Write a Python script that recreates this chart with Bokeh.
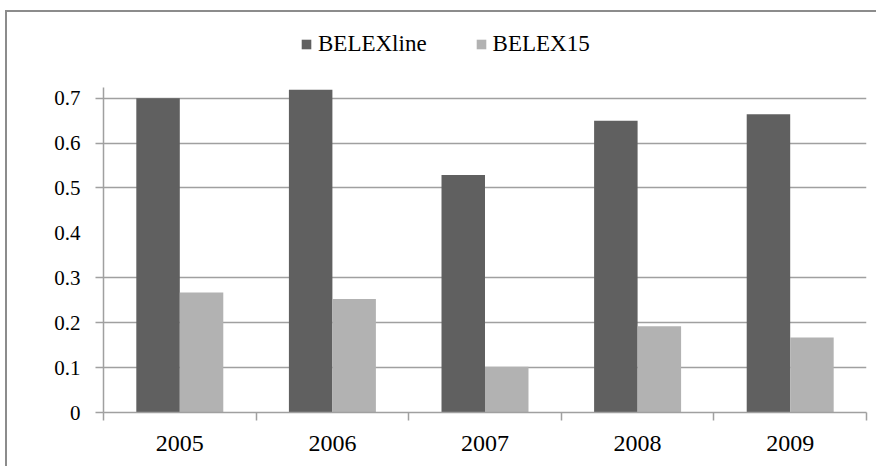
from bokeh.plotting import figure
from bokeh.models import FixedTicker, Legend, LegendItem, ColumnDataSource
from bokeh.transform import dodge
from bokeh.embed import file_html
from bokeh.resources import INLINE

years = ["2005", "2006", "2007", "2008", "2009"]
belexline = [0.700, 0.719, 0.529, 0.650, 0.664]
belex15 = [0.267, 0.253, 0.102, 0.192, 0.167]
y_ticks = [0, 0.1, 0.2, 0.3, 0.4, 0.5, 0.6, 0.7]
grid_ticks = [0, 0.1, 0.2, 0.3, 0.5, 0.6, 0.7]
y_axis_max = 0.7245

pos = list(range(1, len(years) + 1))
bounds = [i + 0.5 for i in range(0, len(years) + 1)]
src = ColumnDataSource(dict(pos=pos, years=years, a=belexline, b=belex15))

AX = "#a0a0a0"
FONT = "Liberation Serif"

p = figure(width=876, height=466, x_range=(0.5, len(years) + 0.5), y_range=(0, 0.873),
           output_backend="svg", toolbar_location=None,
           min_border_left=103, min_border_right=10, min_border_top=20, min_border_bottom=54)
p.border_fill_color = None
p.background_fill_color = "white"
p.styles = {"box-shadow": "inset 5px 10px 0px 0px white, inset 7px 12px 0px 0px #8c8c8c"}
p.outline_line_color = None
p.xgrid.visible = False
p.ygrid.ticker = FixedTicker(ticks=grid_ticks)
p.ygrid.grid_line_color = AX
p.ygrid.grid_line_width = 1.5

r1 = p.vbar(x=dodge("pos", -0.1425, range=p.x_range), top="a", width=0.285, source=src,
            fill_color="#606060", line_color=None)
r2 = p.vbar(x=dodge("pos", 0.1425, range=p.x_range), top="b", width=0.285, source=src,
            fill_color="#b2b2b2", line_color=None)

xa = p.xaxis[0]
xa.ticker = FixedTicker(ticks=pos, minor_ticks=bounds)
xa.major_label_overrides = {i: y for i, y in zip(pos, years)}
xa.major_tick_line_color = None
xa.major_tick_out = 8
xa.major_tick_in = 0
xa.minor_tick_out = 8
xa.minor_tick_in = 0
xa.minor_tick_line_color = AX
xa.minor_tick_line_width = 1.5
xa.axis_line_color = AX
xa.axis_line_width = 1.5
xa.major_label_standoff = 15
xa.major_label_text_font = FONT
xa.major_label_text_font_size = "24px"
xa.major_label_text_color = "#000000"

ya = p.yaxis[0]
ya.bounds = (0, y_axis_max)
ya.ticker = FixedTicker(ticks=y_ticks, minor_ticks=grid_ticks)
ya.major_tick_line_color = None
ya.major_tick_out = 8
ya.major_tick_in = 0
ya.minor_tick_out = 8
ya.minor_tick_in = 0
ya.minor_tick_line_color = AX
ya.minor_tick_line_width = 1.5
ya.axis_line_color = AX
ya.axis_line_width = 1.5
ya.major_label_standoff = 15
ya.major_label_text_font = FONT
ya.major_label_text_font_size = "21px"
ya.major_label_text_color = "#000000"

legend = Legend(items=[LegendItem(label="BELEXline", renderers=[r1]),
                       LegendItem(label="BELEX15", renderers=[r2])],
                orientation="horizontal", location=(197, 355), margin=0, padding=0,
                spacing=48, label_standoff=6, glyph_width=12, glyph_height=12,
                label_height=20, border_line_color=None, background_fill_alpha=0,
                label_text_font=FONT, label_text_font_size="23px", label_text_color="#000000")
p.add_layout(legend, "center")

open("out.html", "w").write(file_html(p, INLINE))
